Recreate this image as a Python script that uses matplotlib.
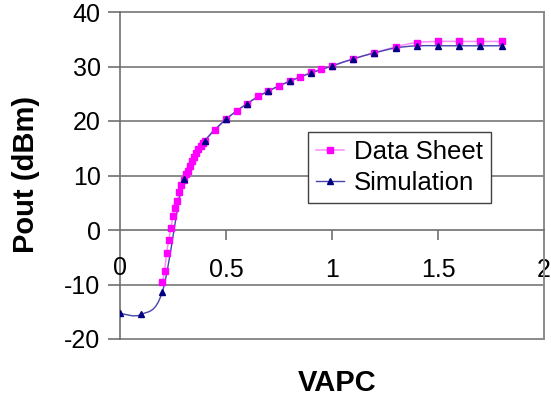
import numpy as np
import matplotlib
matplotlib.use("Agg")
import matplotlib.pyplot as plt
import matplotlib.transforms as mtransforms
from matplotlib.path import Path
from matplotlib.patches import PathPatch

plt.rcParams['font.family'] = ['Liberation Sans', 'DejaVu Sans']
plt.rcParams['axes.unicode_minus'] = False

# ---- data ----
ds_x = [0.20, 0.21, 0.22, 0.23, 0.24, 0.25, 0.26, 0.27, 0.28, 0.29, 0.30,
        0.31, 0.32, 0.33, 0.34, 0.35, 0.36, 0.37, 0.38, 0.39, 0.40,
        0.45, 0.50, 0.55, 0.60, 0.65, 0.70, 0.75, 0.80, 0.85, 0.90, 0.95,
        1.0, 1.1, 1.2, 1.3, 1.4, 1.5, 1.6, 1.7, 1.8]
ds_y = [-9.6, -7.5, -4.2, -1.8, 0.3, 2.5, 4.0, 5.4, 6.9, 8.3, 9.2,
        10.2, 10.9, 11.8, 12.6, 13.4, 14.1, 14.8, 15.4, 16.0, 16.4,
        18.4, 20.3, 21.8, 23.2, 24.5, 25.5, 26.4, 27.3, 28.1, 28.9, 29.5,
        30.1, 31.4, 32.5, 33.6, 34.4, 34.6, 34.6, 34.6, 34.6]

sim_x = [0.0, 0.1, 0.2, 0.3, 0.4, 0.5, 0.6, 0.7, 0.8, 0.9,
         1.0, 1.1, 1.2, 1.3, 1.4, 1.5, 1.6, 1.7, 1.8]
sim_y = [-15.3, -15.5, -11.3, 9.3, 16.3, 20.3, 23.2, 25.5, 27.3, 28.8,
         30.1, 31.4, 32.5, 33.4, 33.8, 33.8, 33.8, 33.8, 33.8]

x_ticks = [0.5, 1, 1.5, 2]
x_ticklabels = ['0.5', '1', '1.5', '2']
y_ticks = [-20, -10, 0, 10, 20, 30, 40]


def smooth_path(xs, ys):
    """Excel-like smoothed line: Catmull-Rom segments as cubic Beziers."""
    P = np.column_stack([xs, ys]).astype(float)
    n = len(P)
    verts = [P[0]]
    codes = [Path.MOVETO]
    for i in range(n - 1):
        p0 = P[i - 1] if i > 0 else P[i]
        p1 = P[i]
        p2 = P[i + 1]
        p3 = P[i + 2] if i + 2 < n else P[i + 1]
        c1 = p1 + (p2 - p0) / 6.0
        c2 = p2 - (p3 - p1) / 6.0
        verts += [c1, c2, p2]
        codes += [Path.CURVE4] * 3
    return Path(verts, codes)


fig = plt.figure(figsize=(5.51, 4.0), dpi=100)
ax = fig.add_axes([0.2178, 0.1525, 0.9873 - 0.2178, 0.97 - 0.1525])

grid_c = '#8a8a8a'
ax.set_xlim(0, 2)
ax.set_ylim(-20, 40)

# lines (smoothed)
ax.add_patch(PathPatch(smooth_path(ds_x, ds_y), facecolor='none',
                       edgecolor='#ff88ff', lw=1.1, zorder=3))
ax.add_patch(PathPatch(smooth_path(sim_x, sim_y), facecolor='none',
                       edgecolor='#4444aa', lw=1.0, zorder=4))
# markers
ax.plot(ds_x, ds_y, ls='none', marker='s', ms=4.6, color='#ff00ff',
        mec='#ff00ff', zorder=5)
ax.plot(sim_x, sim_y, ls='none', marker='^', ms=4.8, color='#000080',
        mec='#000080', zorder=6)

# legend proxies
h1, = ax.plot([], [], color='#ff88ff', lw=1.1, marker='s', ms=4.6,
              mfc='#ff00ff', mec='#ff00ff')
h2, = ax.plot([], [], color='#4444aa', lw=1.0, marker='^', ms=4.8,
              mfc='#000080', mec='#000080')

# grid lines
for yv in y_ticks:
    if yv == 0:
        continue
    ax.axhline(yv, color=grid_c, lw=1.4, zorder=1, clip_on=False)

# spines
ax.spines['left'].set_color('#707070')
ax.spines['left'].set_linewidth(1.2)
ax.spines['right'].set_color(grid_c)
ax.spines['right'].set_linewidth(1.4)
ax.spines['top'].set_visible(False)
ax.spines['bottom'].set_position(('data', 0))
ax.spines['bottom'].set_color('#707070')
ax.spines['bottom'].set_linewidth(1.2)

ax.set_xticks(x_ticks)
ax.set_xticklabels(x_ticklabels)
ax.set_yticks(y_ticks)
ax.tick_params(axis='x', direction='out', length=7, width=1.2, color='#707070',
               labelsize=18, pad=13)
ax.tick_params(axis='y', direction='out', length=9, width=1.2, color='#707070',
               labelsize=18, pad=5)
for lab in ax.get_xticklabels():
    lab.set_clip_on(False)

# "0" label at origin under the axis
ax.text(0, 0, '0', fontsize=18, ha='center', va='top',
        transform=ax.transData + mtransforms.ScaledTranslation(
            0, -26 / 100, fig.dpi_scale_trans))

fig.text(0.612, 0.043, 'VAPC', fontsize=21, fontweight='bold',
         ha='center', va='center')
fig.text(0.048, 0.565, 'Pout (dBm)', fontsize=21, fontweight='bold',
         ha='center', va='center', rotation=90)

leg = ax.legend([h1, h2], ['Data Sheet', 'Simulation'], loc='upper left',
                bbox_to_anchor=(0.443, 0.633), borderaxespad=0,
                fontsize=18.5, frameon=True, fancybox=False, handlelength=1.1,
                handletextpad=0.4, labelspacing=0.3, borderpad=0.3)
leg.get_frame().set_edgecolor('#404040')
leg.get_frame().set_linewidth(1.0)
leg.get_frame().set_alpha(1)
leg.set_zorder(10)

fig.savefig('out.png', dpi=100)
